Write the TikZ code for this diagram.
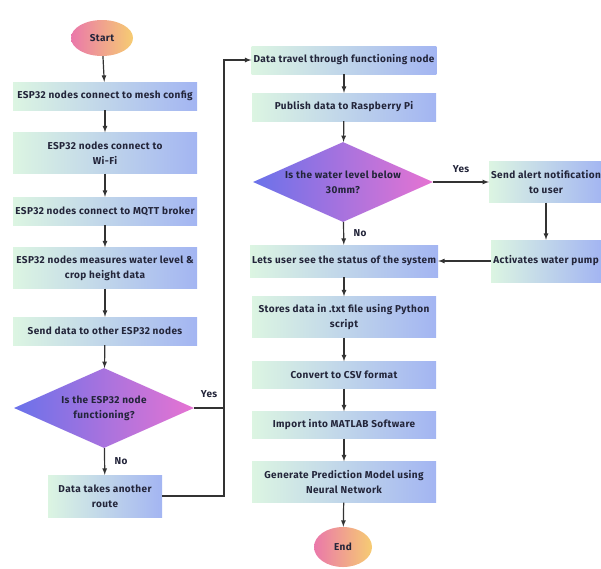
\documentclass[tikz,border=0pt]{standalone}
\usepackage{fontspec}
\setmainfont[LetterSpace=4]{Fira Sans}
\usetikzlibrary{arrows, shapes}

\definecolor{boxleft}{HTML}{DCF5E2}
\definecolor{boxright}{HTML}{A3B5F2}
\definecolor{diaL}{HTML}{6A72EA}
\definecolor{diaR}{HTML}{E673D2}
\definecolor{ovalL}{HTML}{EA78AA}
\definecolor{ovalR}{HTML}{F6CC72}
\definecolor{ink}{HTML}{23253A}

\begin{document}
\begin{tikzpicture}[x=1pt, y=1pt, >=latex,
  font=\bfseries\fontsize{10}{15}\selectfont, text=ink,
  box/.style={rectangle, left color=boxleft, right color=boxright, align=center,
              minimum width=184pt, inner sep=2pt},
  dec/.style={diamond, left color=diaL, right color=diaR, align=center, aspect=2.2,
              minimum width=180pt, minimum height=80pt, inner sep=0pt},
  term/.style={ellipse, left color=ovalL, right color=ovalR, minimum width=62pt,
               minimum height=36pt, inner sep=0pt},
  flow/.style={->, draw=black!80, line width=1.2pt}]
\useasboundingbox (0,0) rectangle (601,-568);

% left column
\node[term] (start) at (102,-38)  {Start};
\node[box, minimum height=28pt] (mesh)  at (105,-96)  {ESP32 nodes connect to mesh config};
\node[box, minimum height=41pt] (wifi)  at (105,-153) {ESP32 nodes connect to\\Wi-Fi};
\node[box, minimum height=28pt] (mqtt)  at (105,-211) {ESP32 nodes connect to MQTT broker};
\node[box, minimum height=41pt] (meas)  at (105,-268) {ESP32 nodes measures water level \&\\crop height data};
\node[box, minimum height=28pt] (send)  at (105,-331) {Send data to other ESP32 nodes};
\node[dec] (func) at (104,-408) {Is the ESP32 node\\functioning?};
\node[box, minimum width=114pt, minimum height=42pt] (route) at (105,-496) {Data takes another\\route};

% right column
\node[box, minimum height=28pt] (travel)  at (344,-60)  {Data travel through functioning node};
\node[box, minimum height=28pt] (publish) at (344,-107) {Publish data to Raspberry Pi};
\node[dec] (level) at (343,-182) {Is the water level below\\30mm?};
\node[box, minimum width=110pt, minimum height=41pt] (alert) at (546,-182) {Send alert notification\\to user};
\node[box, minimum width=110pt, minimum height=42pt] (pump)  at (546,-261) {Activates water pump};
\node[box, minimum height=32pt] (status)  at (344,-261) {Lets user see the status of the system};
\node[box, minimum height=41pt] (store)   at (344,-317) {Stores data in .txt file using Python\\script};
\node[box, minimum height=27pt] (csv)     at (344,-375) {Convert to CSV format};
\node[box, minimum height=27pt] (matlab)  at (344,-425) {Import into MATLAB Software};
\node[box, minimum height=41pt] (model)   at (344,-482) {Generate Prediction Model using\\Neural Network};
\node[term, minimum width=58pt, minimum height=40pt] (end) at (343,-547) {End};

\coordinate (join) at (224,-408);

\draw[flow] (start) -- (mesh);
\draw[flow] (mesh) -- (wifi);
\draw[flow] (wifi) -- (mqtt);
\draw[flow] (mqtt) -- (meas);
\draw[flow] (meas) -- (send);
\draw[flow] (send) -- (func);
\draw[flow] (func) -- node[right=6pt] {No} (route);
\draw[flow] (func.east) -- node[above=6pt] {Yes} (join) |- (travel.west);
\draw[draw=black!80, line width=1.2pt] (route.east) -| (join);

\draw[flow] (travel) -- (publish);
\draw[flow] (publish) -- (level);
\draw[flow] (level) -- node[above=5pt] {Yes} (alert);
\draw[flow] (alert) -- (pump);
\draw[flow] (pump) -- (status);
\draw[flow] (level) -- node[right=6pt] {No} (status);
\draw[flow] (status) -- (store);
\draw[flow] (store) -- (csv);
\draw[flow] (csv) -- (matlab);
\draw[flow] (matlab) -- (model);
\draw[flow] (model) -- (end);
\end{tikzpicture}
\end{document}
